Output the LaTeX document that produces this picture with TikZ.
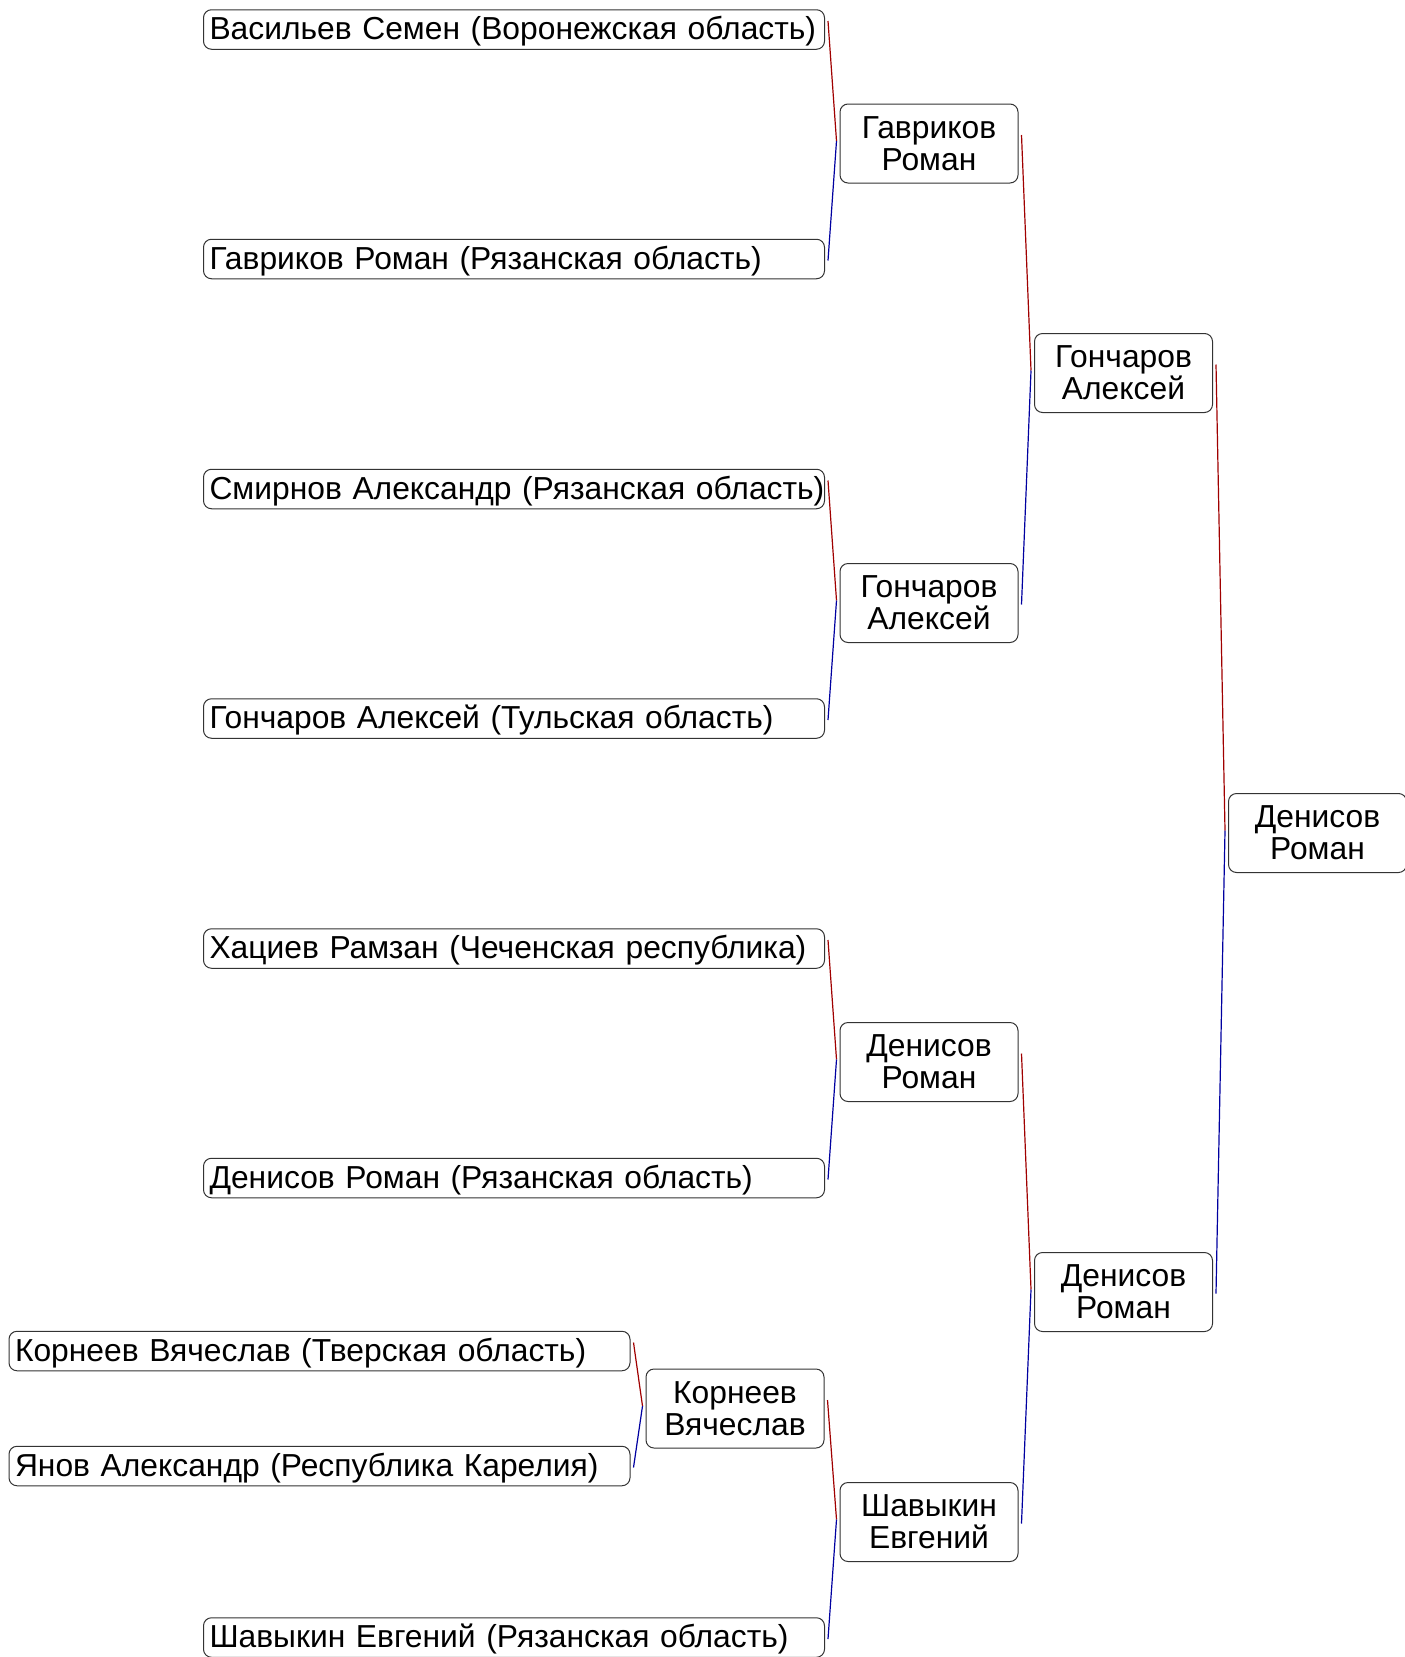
\documentclass[tikz,border=0pt]{standalone}
\usepackage{fontspec}
\setmainfont{Liberation Sans}
\usepackage{tikz}
\usetikzlibrary{positioning}
\definecolor{redcorner}{RGB}{160,0,0}
\definecolor{bluecorner}{RGB}{0,0,160}

\begin{document}
\begin{tikzpicture}[x=1pt, y=-1pt,
    every node/.style={font=\fontsize{31.8}{31.8}\selectfont},
    leaf/.style={draw=black!80, line width=1pt, rounded corners=8pt, anchor=west, text width=609pt, align=left, inner xsep=6pt, inner ysep=2pt, minimum height=39.5pt, text depth=3pt, execute at begin node={\hbox\bgroup}, execute at end node={\egroup}},
    bout/.style={draw=black!80, line width=1pt, rounded corners=8pt, align=center, minimum width=178pt, minimum height=79pt, inner sep=2pt},
    redline/.style={draw=redcorner, line width=1.2pt},
    blueline/.style={draw=bluecorner, line width=1.2pt}]
    \useasboundingbox (0,0) rectangle (1405,1657);
    % participants
    \node (Vasiliev) [leaf] at (203, 29.5) {Васильев Семен (Воронежская область)};
    \node (Gavrikov) [leaf] at (203, 259) {Гавриков Роман (Рязанская область)};
    \node (Smirnov) [leaf] at (203, 489) {Смирнов Александр (Рязанская область)};
    \node (Goncharov) [leaf] at (203, 718.5) {Гончаров Алексей (Тульская область)};
    \node (Khatsiev) [leaf] at (203, 948.5) {Хациев Рамзан (Чеченская республика)};
    \node (Denisov) [leaf] at (203, 1178) {Денисов Роман (Рязанская область)};
    \node (Korneev) [leaf] at (8.5, 1351) {Корнеев Вячеслав (Тверская область)};
    \node (Yanov) [leaf] at (8.5, 1466) {Янов Александр (Республика Карелия)};
    \node (Shavykin) [leaf] at (203, 1637.5) {Шавыкин Евгений (Рязанская область)};
    % winners
    \node (KorneevW) [bout] at (735, 1408.5) {Корнеев\\Вячеслав};
    \node (GavrikovW) [bout] at (929, 143.5) {Гавриков\\Роман};
    \node (GoncharovW) [bout] at (929, 603) {Гончаров\\Алексей};
    \node (DenisovW) [bout] at (929, 1062) {Денисов\\Роман};
    \node (ShavykinW) [bout] at (929, 1522) {Шавыкин\\Евгений};
    \node (GoncharovS) [bout] at (1123.5, 373) {Гончаров\\Алексей};
    \node (DenisovS) [bout] at (1123.5, 1292) {Денисов\\Роман};
    \node (DenisovF) [bout] at (1317.5, 833) {Денисов\\Роман};
    % connectors
    \draw [redline] ([shift={(3,-8.5)}]Vasiliev.east) -- ([shift={(-3,-2.5)}]GavrikovW.west);
    \draw [blueline] ([shift={(3,1.5)}]Gavrikov.east) -- ([shift={(-3,-2.5)}]GavrikovW.west);
    \draw [redline] ([shift={(3,-8.5)}]Smirnov.east) -- ([shift={(-3,-2.5)}]GoncharovW.west);
    \draw [blueline] ([shift={(3,1.5)}]Goncharov.east) -- ([shift={(-3,-2.5)}]GoncharovW.west);
    \draw [redline] ([shift={(3,-8.5)}]Khatsiev.east) -- ([shift={(-3,-2.5)}]DenisovW.west);
    \draw [blueline] ([shift={(3,1.5)}]Denisov.east) -- ([shift={(-3,-2.5)}]DenisovW.west);
    \draw [redline] ([shift={(3,-8.5)}]Korneev.east) -- ([shift={(-3,-2.5)}]KorneevW.west);
    \draw [blueline] ([shift={(3,1.5)}]Yanov.east) -- ([shift={(-3,-2.5)}]KorneevW.west);
    \draw [redline] ([shift={(3,-8.5)}]KorneevW.east) -- ([shift={(-3,-2.5)}]ShavykinW.west);
    \draw [blueline] ([shift={(3,1.5)}]Shavykin.east) -- ([shift={(-3,-2.5)}]ShavykinW.west);
    \draw [redline] ([shift={(3,-8.5)}]GavrikovW.east) -- ([shift={(-3,-2.5)}]GoncharovS.west);
    \draw [blueline] ([shift={(3,1.5)}]GoncharovW.east) -- ([shift={(-3,-2.5)}]GoncharovS.west);
    \draw [redline] ([shift={(3,-8.5)}]DenisovW.east) -- ([shift={(-3,-2.5)}]DenisovS.west);
    \draw [blueline] ([shift={(3,1.5)}]ShavykinW.east) -- ([shift={(-3,-2.5)}]DenisovS.west);
    \draw [redline] ([shift={(3,-8.5)}]GoncharovS.east) -- ([shift={(-3,-2.5)}]DenisovF.west);
    \draw [blueline] ([shift={(3,1.5)}]DenisovS.east) -- ([shift={(-3,-2.5)}]DenisovF.west);
\end{tikzpicture}
\end{document}
